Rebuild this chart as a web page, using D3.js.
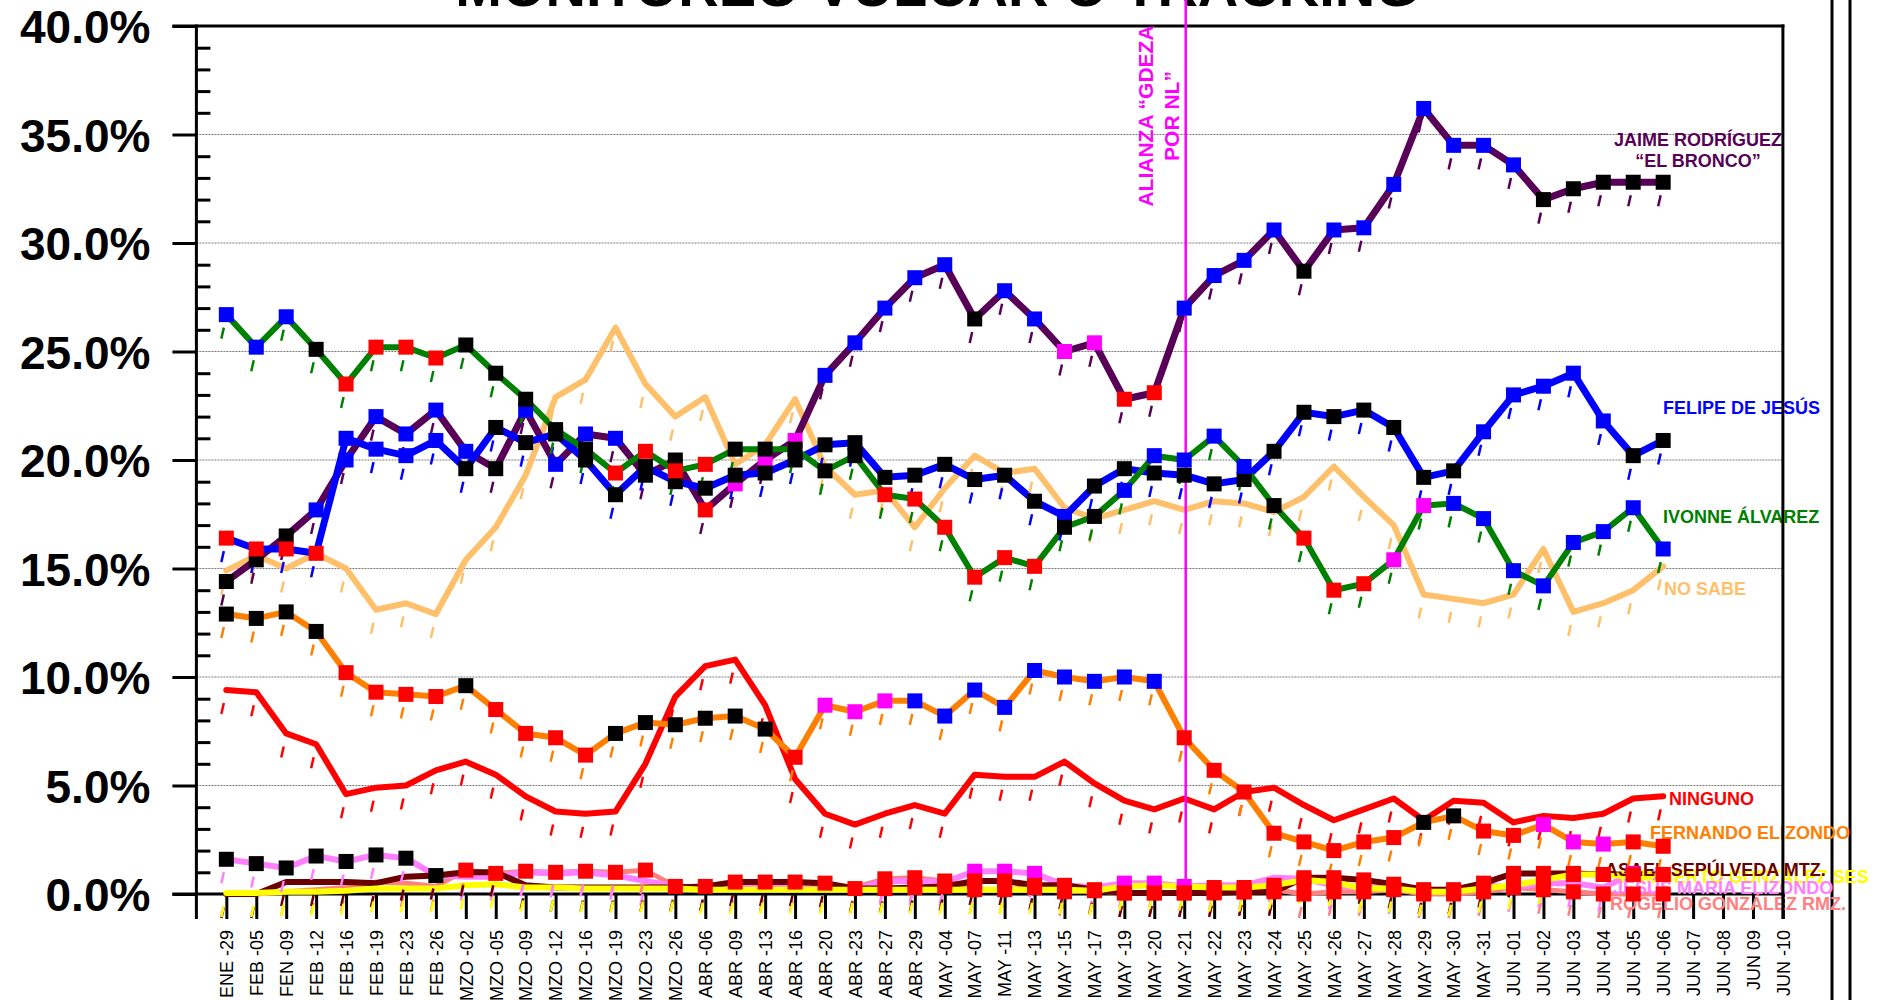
<!DOCTYPE html>
<html>
<head>
<meta charset="utf-8">
<script src="https://cdn.jsdelivr.net/npm/d3@7"></script>
<style>
    body { margin: 0; background: white; }
    svg { display: block; font-family: "Liberation Sans", Arial, Helvetica, sans-serif; }
</style>
</head>
<body>
<svg id="chart"></svg>
<script>
// ---- data (percent) ----
const categories = ["ENE -29","FEB -05","FEN -09","FEB -12","FEB -16","FEB -19","FEB -23","FEB -26",
    "MZO -02","MZO -05","MZO -09","MZO -12","MZO -16","MZO -19","MZO -23","MZO -26",
    "ABR -06","ABR -09","ABR -13","ABR -16","ABR -20","ABR -23","ABR -27","ABR -29",
    "MAY -04","MAY -07","MAY -11","MAY -13","MAY -15","MAY -17","MAY -19","MAY -20","MAY -21",
    "MAY -22","MAY -23","MAY -24","MAY -25","MAY -26","MAY -27","MAY -28","MAY -29","MAY -30","MAY -31",
    "JUN -01","JUN -02","JUN -03","JUN -04","JUN -05","JUN -06","JUN -07","JUN -08","JUN 09","JUN -10"];

const yTicks = [0, 5, 10, 15, 20, 25, 30, 35, 40];

const jaime = [14.4,15.4,16.5,17.7,20.0,22.0,21.2,22.3,20.4,19.6,22.3,19.8,21.2,21.0,19.3,20.0,17.7,18.9,20.0,20.9,
    23.9,25.4,27.0,28.4,29.0,26.5,27.8,26.5,25.0,25.4,22.8,23.1,27.0,28.5,29.2,30.6,28.7,30.6,30.7,32.7,
    36.2,34.5,34.5,33.6,32.0,32.5,32.8,32.8,32.8];
const felipe = [16.4,15.9,15.9,15.7,21.0,20.5,20.2,20.9,19.6,21.5,20.8,21.2,20.0,18.4,19.7,19.0,18.7,19.3,19.4,20.0,
    20.7,20.8,19.2,19.3,19.8,19.1,19.3,18.1,17.4,18.8,19.6,19.4,19.3,18.9,19.1,20.4,22.2,22.0,22.3,21.5,
    19.2,19.5,21.3,23.0,23.4,24.0,21.8,20.2,20.9];
const ivonne = [26.7,25.2,26.6,25.1,23.5,25.2,25.2,24.7,25.3,24.0,22.8,21.4,20.5,19.4,20.4,19.5,19.8,20.5,20.5,20.5,
    19.5,20.2,18.4,18.2,16.9,14.6,15.5,15.1,16.9,17.4,18.6,20.2,20.0,21.1,19.7,17.9,16.4,14.0,14.3,15.4,
    17.9,18.0,17.3,14.9,14.2,16.2,16.7,17.8,15.9];
const noSabe = [14.9,15.6,15.0,15.7,15.0,13.1,13.4,12.9,15.4,16.9,19.3,22.9,23.7,26.1,23.5,22.0,22.9,19.8,20.7,22.8,
    19.7,18.4,18.6,16.9,18.7,20.2,19.4,19.6,17.8,17.3,17.7,18.1,17.7,18.1,18.0,17.6,18.3,19.7,18.3,17.0,
    13.8,13.6,13.4,13.8,15.9,13.0,13.4,14.0,15.1];
const ninguno = [9.4,9.3,7.4,6.9,4.6,4.9,5.0,5.7,6.1,5.5,4.5,3.8,3.7,3.8,6.0,9.1,10.5,10.8,8.7,5.3,
    3.7,3.2,3.7,4.1,3.7,5.5,5.4,5.4,6.1,5.1,4.3,3.9,4.4,3.9,4.7,4.9,4.1,3.4,3.9,4.4,
    3.4,4.3,4.2,3.3,3.6,3.5,3.7,4.4,4.5];
const fernando = [12.9,12.7,13.0,12.1,10.2,9.3,9.2,9.1,9.6,8.5,7.4,7.2,6.4,7.4,7.9,7.8,8.1,8.2,7.6,6.3,
    8.7,8.4,8.9,8.9,8.2,9.4,8.6,10.3,10.0,9.8,10.0,9.8,7.2,5.7,4.7,2.8,2.4,2.0,2.4,2.6,
    3.3,3.6,2.9,2.7,3.2,2.4,2.3,2.4,2.2];
const asael = [0.0,0.0,0.55,0.55,0.55,0.5,0.8,0.85,1.0,1.0,0.4,0.3,0.3,0.3,0.3,0.3,0.35,0.55,0.55,0.55,
    0.5,0.25,0.25,0.3,0.35,0.6,0.6,0.4,0.4,0.2,0.05,0.05,0.05,0.05,0.1,0.1,0.75,0.75,0.65,0.45,
    0.2,0.2,0.5,0.95,0.95,0.95,0.9,0.9,0.9];
const humberto = [0.05,0.05,0.1,0.1,0.15,0.25,0.25,0.25,0.4,0.45,0.3,0.3,0.25,0.25,0.25,0.25,0.2,0.2,0.2,0.2,
    0.2,0.2,0.2,0.2,0.2,0.2,0.2,0.2,0.2,0.15,0.35,0.4,0.35,0.3,0.3,0.4,0.65,0.55,0.25,0.25,
    0.1,0.1,0.25,0.4,0.65,0.9,0.9,0.8,0.8];
const jesusMaria = [1.6,1.4,1.2,1.75,1.5,1.8,1.65,0.85,0.8,0.8,1.0,0.95,1.0,0.85,0.6,0.35,0.3,0.35,0.3,0.3,
    0.3,0.2,0.6,0.6,0.55,1.05,1.05,0.95,0.4,0.3,0.5,0.5,0.35,0.4,0.4,0.75,0.7,0.4,0.3,0.3,
    0.2,0.2,0.4,0.3,0.5,0.5,0.3,0.95,0.9];
const rogelio = [0.0,0.0,0.1,0.2,0.3,0.55,0.5,0.35,1.1,0.95,1.05,1.0,1.05,1.0,1.1,0.35,0.3,0.3,0.35,0.3,
    0.3,0.3,0.7,0.75,0.6,0.2,0.2,0.3,0.1,0.15,0.05,0.05,0.05,0.1,0.1,0.2,0.0,0.1,0.1,0.2,
    0.0,0.0,0.1,0.3,0.2,0.1,0.0,0.0,0.0];

// marker colour per point: k black, b blue, r red, m magenta, . none
const jaimeMarks    = "kkkbbbbbbkbbbbkkrmmmbbbbbkbbmmrrbbbbkbbbbbbbkkkkk";
const felipeMarks   = "rrrrbbbbkkkkkkkkkkkkkkkkkkkkbkkkkkkkkkkkkkbbbbbkk";
const ivonneMarks   = "bbbkrrrrkkkkkrrrrkkkkkrrrrrrkkbbbbbkrrrmmbbbbbbbb";
const fernandoMarks = "kkkkrrrrkrrrrkkkkkkrmmmbbbbbbbbbrrrrrrrrkkrrmmmrr";
const jesusMarks    = "kkkkkkkk.................mmm..mmm..............mm";
const rogelioMarks  = "........rrrrrrrr......rrrrrrrrrrrrrrrrrrrrrrrrrrr";
const asaelMarks    = "................rrrrrrrrrrrrrrrrrrrrrrrrrrrrrrrrr";
const humbertoMarks = ".................................rrrrrrrrrrrrrr..";

// ---- layout ----
const W = 1887, H = 1000;
const plot = { left: 196.4, right: 1782.9, top: 26, bottom: 894 };
const markColor = { k: "#000000", b: "#0000FF", r: "#FF0000", m: "#FF00FF" };

const series = [
    { values: rogelio,    marks: rogelioMarks,  color: "#FF8080", width: 5 },
    { values: jesusMaria, marks: jesusMarks,    color: "#FF80FF", width: 6 },
    { values: asael,      marks: asaelMarks,    color: "#6B0000", width: 6 },
    { values: humberto,   marks: humbertoMarks, color: "#FFFF00", width: 6 },
    { values: ninguno,    marks: null,          color: "#FF0000", width: 6 },
    { values: fernando,   marks: fernandoMarks, color: "#FF8000", width: 6 },
    { values: noSabe,     marks: null,          color: "#FFC06C", width: 6 },
    { values: jaime,      marks: jaimeMarks,    color: "#580058", width: 7 },
    { values: felipe,     marks: felipeMarks,   color: "#0000FF", width: 7 },
    { values: ivonne,     marks: ivonneMarks,   color: "#008000", width: 6 }
];

const labels = [
    { text: "JAIME RODRÍGUEZ", color: "#580058", x: 1698, y: 146, anchor: "middle" },
    { text: "“EL BRONCO”", color: "#580058", x: 1698, y: 167, anchor: "middle" },
    { text: "FELIPE DE JESÚS", color: "#0000FF", x: 1663, y: 414, anchor: "start" },
    { text: "IVONNE ÁLVAREZ", color: "#008000", x: 1663, y: 523, anchor: "start" },
    { text: "NO SABE", color: "#FFC06C", x: 1664, y: 595, anchor: "start" },
    { text: "NINGUNO", color: "#FF0000", x: 1669, y: 805, anchor: "start" },
    { text: "FERNANDO ELIZONDO", color: "#FF8000", x: 1650, y: 839, anchor: "start" },
    { text: "HUMBERTO GONZÁLEZ SESMA", color: "#FFFF00", x: 1620, y: 883, anchor: "start" },
    { text: "ASAEL SEPÚLVEDA MTZ.", color: "#6B0000", x: 1605, y: 876, anchor: "start" },
    { text: "JESÚS MARÍA ELIZONDO", color: "#FF80FF", x: 1613, y: 894, anchor: "start" },
    { text: "ROGELIO GONZÁLEZ RMZ.", color: "#FF8080", x: 1610, y: 910, anchor: "start" }
];

const svg = d3.select("#chart").attr("width", W).attr("height", H);

svg.append("defs").append("clipPath").attr("id", "pageClip")
    .append("rect").attr("x", 0).attr("y", 0).attr("width", 1869).attr("height", H);

const step = (plot.right - plot.left) / categories.length;
const x = d3.scalePoint().domain(categories).range([plot.left + step, plot.right]);
const y = d3.scaleLinear().domain([0, 40]).range([plot.bottom, plot.top]);

// title (only the lower part shows in the picture)
svg.append("text")
    .attr("x", 937).attr("y", 6)
    .attr("text-anchor", "middle")
    .attr("font-size", 56).attr("font-weight", "bold")
    .text("MONITOREO VULCAR O TRACKING");

// gridlines
svg.append("g").selectAll("line")
    .data(yTicks.filter(v => v > 0 && v < 40))
    .enter().append("line")
    .attr("x1", plot.left).attr("x2", plot.right)
    .attr("y1", d => y(d)).attr("y2", d => y(d))
    .attr("stroke", "#7a7a7a").attr("stroke-width", 1)
    .attr("stroke-dasharray", "2,1");

// y axis: major ticks outside with labels
const yAxis = svg.append("g")
    .attr("transform", `translate(${plot.left},0)`)
    .call(d3.axisLeft(y).tickValues(yTicks).tickSize(24).tickPadding(22)
        .tickFormat(d => d.toFixed(1) + "%"));
yAxis.select(".domain").remove();
yAxis.selectAll("line").attr("stroke-width", 3);
yAxis.selectAll("text")
    .attr("font-size", 46).attr("font-weight", "bold")
    .attr("font-family", "'Liberation Sans', Arial, sans-serif")
    .attr("dy", "0.36em");

// minor ticks inside
const yMinor = svg.append("g")
    .attr("transform", `translate(${plot.left},0)`)
    .call(d3.axisRight(y).tickValues(d3.range(0, 41).filter(v => v % 5)).tickSize(14).tickFormat(""));
yMinor.select(".domain").remove();
yMinor.selectAll("line").attr("stroke-width", 3);

// x axis
const xAxis = svg.append("g")
    .attr("transform", `translate(0,${plot.bottom})`)
    .call(d3.axisBottom(x).tickSize(25).tickSizeOuter(0));
xAxis.select(".domain").remove();
xAxis.selectAll("line").attr("stroke-width", 3);
xAxis.selectAll("text")
    .attr("font-size", 18)
    .attr("font-family", "'Liberation Sans', Arial, sans-serif")
    .attr("transform", "rotate(-90)")
    .attr("x", -36).attr("y", 0).attr("dy", "0.35em")
    .style("text-anchor", "end");

// frame lines
const frame = svg.append("g").attr("stroke", "black").attr("stroke-width", 3);
frame.append("line").attr("x1", plot.left).attr("x2", plot.left).attr("y1", plot.top - 1.5).attr("y2", plot.bottom + 25);
frame.append("line").attr("x1", plot.left - 24).attr("x2", plot.right + 1.5).attr("y1", y(0)).attr("y2", y(0));
frame.append("line").attr("x1", plot.left - 24).attr("x2", plot.right + 1.5).attr("y1", y(40)).attr("y2", y(40));
frame.append("line").attr("x1", 1832).attr("x2", 1832).attr("y1", 0).attr("y2", H);
frame.append("line").attr("x1", 1850).attr("x2", 1850).attr("y1", 0).attr("y2", H);

// lines
const line = d3.line().x((d, i) => x(categories[i])).y(d => y(d));
const lineG = svg.append("g");
series.forEach(s => {
    lineG.append("path")
        .attr("d", line(s.values))
        .attr("fill", "none")
        .attr("stroke", s.color)
        .attr("stroke-width", s.width)
        .attr("stroke-linejoin", "round")
        .attr("stroke-linecap", "round");
});

// labels
const labelG = svg.append("g").attr("clip-path", "url(#pageClip)");
labelG.selectAll("text").data(labels).enter().append("text")
    .attr("x", d => d.x).attr("y", d => d.y)
    .attr("text-anchor", d => d.anchor)
    .attr("fill", d => d.color)
    .attr("font-size", 18).attr("font-weight", "bold")
    .text(d => d.text);

// alliance marker
const mayIdx = "MAY -21";
svg.append("line")
    .attr("x1", x(mayIdx) + 1.5).attr("x2", x(mayIdx) + 1.5)
    .attr("y1", 0).attr("y2", y(0))
    .attr("stroke", "#FF00FF").attr("stroke-width", 2.5);
const alianza = svg.append("g").attr("fill", "#FF00FF")
    .attr("font-size", 21).attr("font-weight", "bold").attr("text-anchor", "middle");
alianza.append("text").attr("transform", `translate(${x(mayIdx) - 31},116) rotate(-90)`).text("ALIANZA “GDEZA");
alianza.append("text").attr("transform", `translate(${x(mayIdx) - 5},116) rotate(-90)`).text("POR NL”");

// little slanted ticks under each point
const dashG = svg.append("g");
series.forEach(s => {
    dashG.selectAll(null).data(s.values).enter().append("line")
        .attr("x1", (d, i) => x(categories[i]) - 2.5).attr("y1", d => y(d) + 13)
        .attr("x2", (d, i) => x(categories[i]) - 5).attr("y2", d => y(d) + 24)
        .attr("stroke", s.color).attr("stroke-width", 2.5);
});

// square markers
const markG = svg.append("g");
const ms = 15;
series.filter(s => s.marks).forEach(s => {
    const pts = s.values.map((v, i) => ({ v, i, m: s.marks[i] })).filter(p => p.m !== ".");
    markG.selectAll(null).data(pts).enter().append("rect")
        .attr("x", p => x(categories[p.i]) - ms / 2)
        .attr("y", p => y(p.v) - ms / 2)
        .attr("width", ms).attr("height", ms)
        .attr("fill", p => markColor[p.m]);
});

// right border on top of the labels
svg.append("line")
    .attr("x1", plot.right).attr("x2", plot.right)
    .attr("y1", plot.top - 1.5).attr("y2", plot.bottom + 25)
    .attr("stroke", "black").attr("stroke-width", 3);
</script>
</body>
</html>
